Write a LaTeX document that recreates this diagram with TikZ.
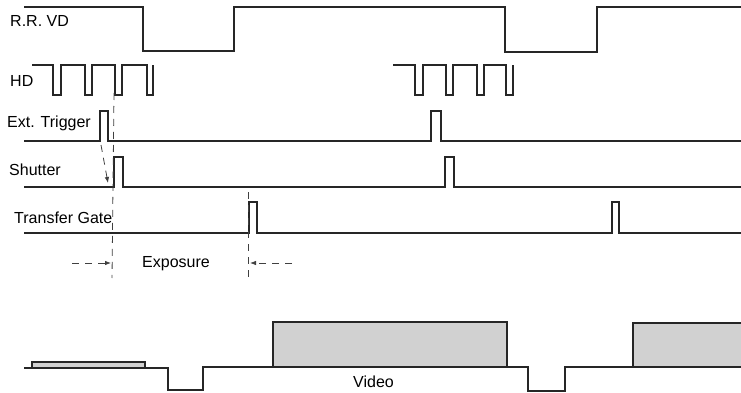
\documentclass[tikz,border=0pt]{standalone}
\usepackage{fontspec}
\setmainfont{Liberation Sans}
\usetikzlibrary{arrows.meta}
\begin{document}
\begin{tikzpicture}[x=1pt,y=-1pt,
  sig/.style={line width=1.3pt, line join=miter, color=black!85},
  lbl/.style={anchor=base west, inner sep=0pt, font=\fontsize{16}{19}\selectfont},
  guide/.style={dash pattern=on 7pt off 6pt, line width=0.8pt, color=black!75},
  arr/.style={guide, -{Latex[length=6pt,width=4.5pt]}},
  vfill/.style={fill=black!18}]
\useasboundingbox (0,0) rectangle (741,393);
% labels
\node[lbl] (lrr) at (10,27) {R.R. VD};
\node[lbl] (lhd) at (10,87) {HD};
\node[lbl] (lext) at (7,128) {Ext. Trigger};
\node[lbl] (lsh) at (9,175) {Shutter};
\node[lbl] (ltg) at (14,223) {Transfer Gate};
\node[lbl] (lexp) at (142,267) {Exposure};
\node[lbl] (lvid) at (353,387) {Video};
% R.R. VD
\draw[sig] (24,7) -- (143,7) -- (143,51) -- (234,51) -- (234,7) -- (505,7) -- (505,52) -- (597,52) -- (597,7) -- (741,7);
% HD
\draw[sig] (32,65) -- (53,65) -- (53,95) -- (61,95) -- (61,65) -- (85,65) -- (85,95) -- (92,95) -- (92,65) -- (115,65) -- (115,95) -- (122,95) -- (122,65) -- (147,65) -- (147,95) -- (153,95) -- (153,65);
\draw[sig] (393,65) -- (415,65) -- (415,95) -- (423,95) -- (423,65) -- (446,65) -- (446,95) -- (453,95) -- (453,65) -- (477,65) -- (477,95) -- (484,95) -- (484,65) -- (506,65) -- (506,95) -- (513,95) -- (513,65);
% Ext. Trigger
\draw[sig] (24,141) -- (100,141) -- (100,111) -- (108,111) -- (108,141) -- (431,141) -- (431,111) -- (441,111) -- (441,141) -- (741,141);
% Shutter
\draw[sig] (24,187) -- (114,187) -- (114,157) -- (123,157) -- (123,187) -- (445,187) -- (445,157) -- (454,157) -- (454,187) -- (741,187);
% Transfer Gate
\draw[sig] (24,233) -- (249,233) -- (249,202) -- (257,202) -- (257,233) -- (612,233) -- (612,202) -- (619,202) -- (619,233) -- (741,233);
% Video
\fill[vfill] (32,362) rectangle (145,368);
\fill[vfill] (273,322) rectangle (507,367);
\fill[vfill] (633,323) rectangle (741,367);
\draw[sig] (32,368) rectangle (145,362);
\draw[sig] (273,367) rectangle (507,322);
\draw[sig] (741,323) -- (633,323) -- (633,367);
\draw[sig] (24,368) -- (168,368) -- (168,390) -- (203,390) -- (203,367) -- (528,367) -- (528,391) -- (565,391) -- (565,367) -- (741,367);
% guides
\coordinate (g1t) at (114,93);
\coordinate (g1b) at (112,278);
\coordinate (g2t) at (248,192);
\coordinate (g2b) at (248,278);
\draw[guide] (g1t) -- (g1b);
\draw[guide] (g2t) -- (g2b);
\coordinate (d1) at (101,145);
\coordinate (d2) at (108,183);
\draw[arr] (d1) -- (d2);
\coordinate (e1) at (72,263);
\coordinate (e2) at (111,263);
\coordinate (e3) at (292,263);
\coordinate (e4) at (250,263);
\draw[arr] (e1) -- (e2);
\draw[arr] (e3) -- (e4);
\end{tikzpicture}
\end{document}
